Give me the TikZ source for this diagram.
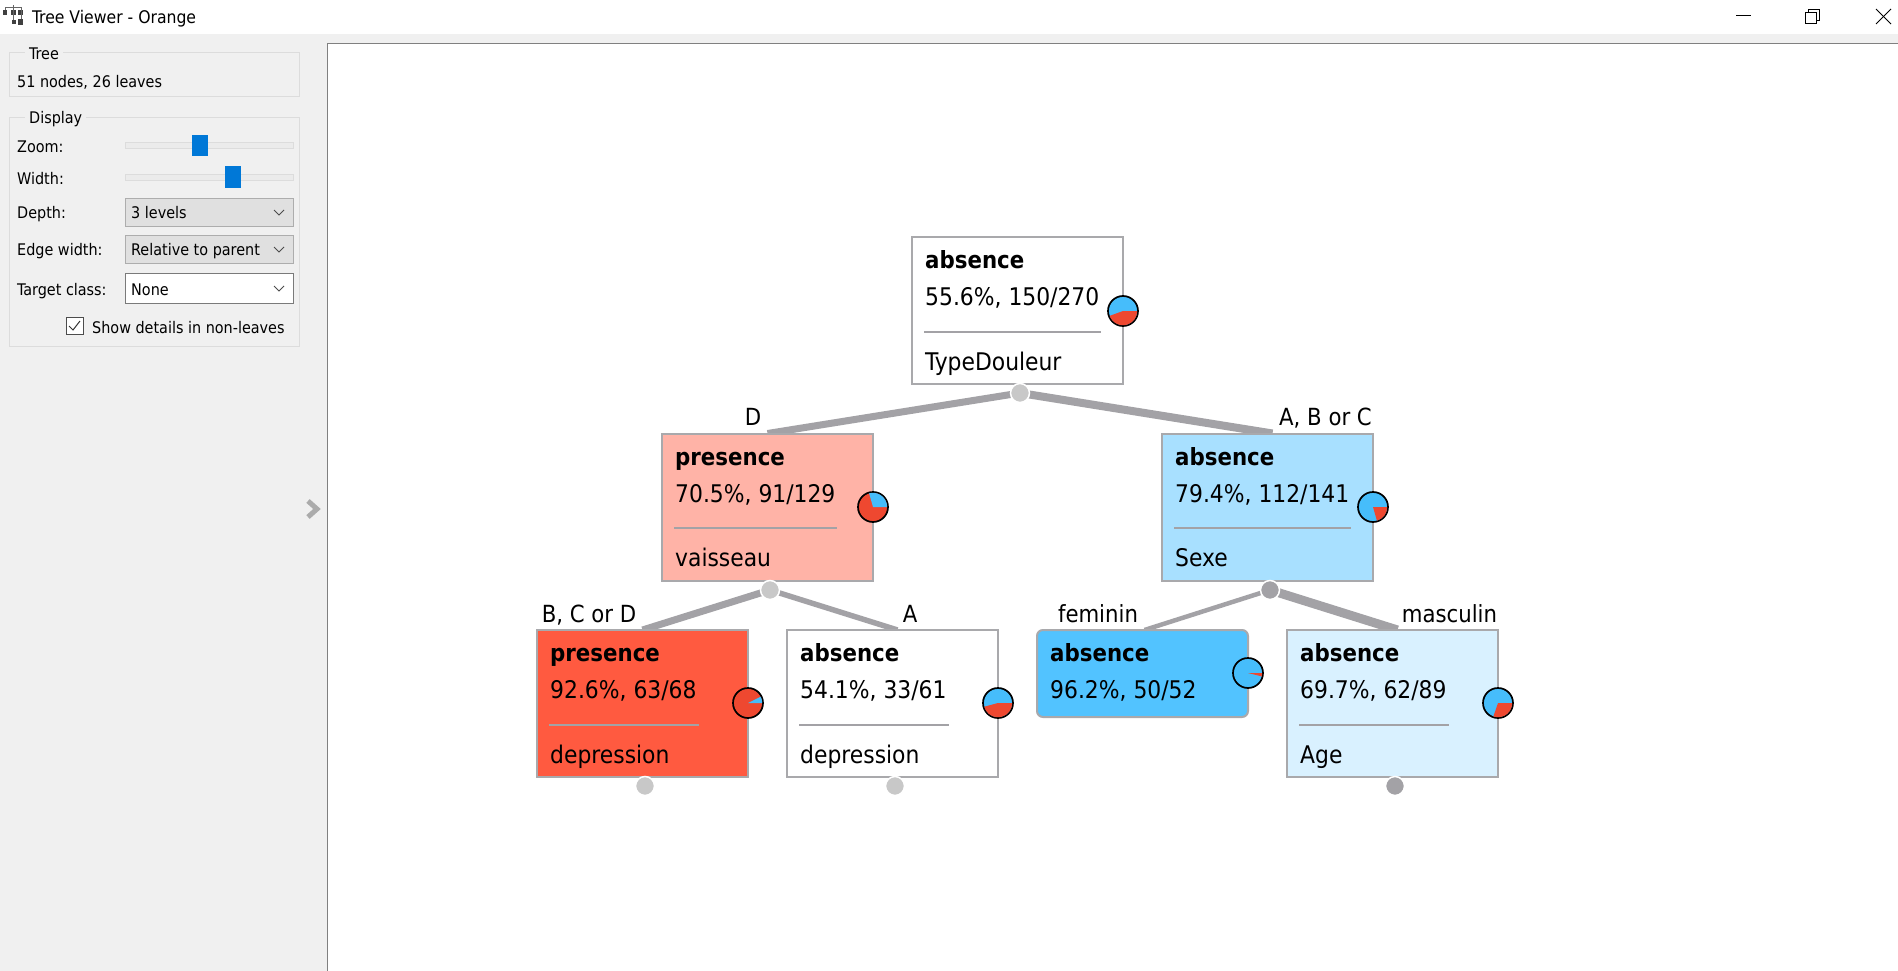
\documentclass[tikz,border=0pt]{standalone}
\usepackage{fontspec}
\setmainfont{DejaVu Sans Condensed}
\usetikzlibrary{backgrounds}
\definecolor{panelgrey}{HTML}{F0F0F0}
\definecolor{framegrey}{HTML}{DCDCDC}
\definecolor{boxborder}{HTML}{A9A9AC}
\definecolor{edgegrey}{HTML}{A3A2A6}
\definecolor{dotlight}{HTML}{C8C8C8}
\definecolor{pieblue}{HTML}{46BDFB}
\definecolor{piered}{HTML}{EE4830}
\definecolor{fillpresencelight}{HTML}{FFB3A7}
\definecolor{fillabsencelight}{HTML}{A8E0FF}
\definecolor{fillpresence}{HTML}{FF5A40}
\definecolor{fillabsence}{HTML}{52C3FF}
\definecolor{fillabsencepale}{HTML}{D9F1FF}
\definecolor{sliderblue}{HTML}{0078D7}
\tikzset{
  treebox/.style={draw=boxborder,line width=2pt,rectangle,minimum width=211pt,minimum height=147pt,inner sep=0pt,outer sep=0pt},
  classtext/.style={anchor=base west,inner sep=0pt,font=\fontsize{23.7}{28}\selectfont\bfseries},
  treetext/.style={anchor=base west,inner sep=0pt,font=\fontsize{24.3}{28}\selectfont},
  branchtext/.style={anchor=base,inner sep=0pt,font=\fontsize{23.6}{28}\selectfont},
  splitline/.style={edgegrey,line width=1.5pt},
  edgeline/.style={edgegrey},
  treedot/.style={circle,draw=white,line width=1.5pt,fill=dotlight,minimum size=19pt,inner sep=0pt},
  piering/.style={circle,draw=black,line width=1.7pt,minimum size=30pt,inner sep=0pt},
  uitext/.style={anchor=base west,inner sep=0pt,font=\fontsize{16}{19}\selectfont},
  grouptitle/.style={anchor=base west,fill=panelgrey,inner xsep=4pt,inner ysep=1pt,font=\fontsize{16}{19}\selectfont},
  groupframe/.style={draw=framegrey,line width=1pt},
  slidertrack/.style={fill=panelgrey!85!black!40!white,draw=framegrey,line width=1pt},
  sliderthumb/.style={fill=sliderblue},
  combobox/.style={fill=black!12,draw=black!32,line width=1pt},
  combochevron/.style={black!70,line width=1pt}
}
\begin{document}
\begin{tikzpicture}[x=1pt,y=1pt]
\useasboundingbox (0,0) rectangle (1898,-971);
% window
\fill [panelgrey] (0,-34) rectangle (1898,-44);
\fill [panelgrey] (0,-44) rectangle (327,-971);
\draw [black!50,line width=1pt] (327,-971) -- (327,-44) -- (1898,-44);
\node [uitext,font=\fontsize{17.4}{20}\selectfont] (wintitle) at (32,-24) {Tree Viewer - Orange};
\fill [black!75] (3,-10) rectangle (7,-15);
\fill [black!75] (11,-10) rectangle (16,-15);
\fill [black!75] (18,-10) rectangle (23,-15);
\fill [black!75] (12,-20) rectangle (16,-24);
\fill [black!75] (18,-19) rectangle (23,-25);
\draw [black!60,line width=0.8pt] (5,-10) -- (5,-7) -- (21,-7) -- (21,-19);
\draw [black!60,line width=0.8pt] (13.5,-5) -- (13.5,-20);
\draw [black,line width=1pt] (1736,-16) -- (1751,-16);
\draw [black,line width=1pt] (1805,-13) rectangle (1816,-24);
\draw [black,line width=1pt] (1808,-13) -- (1808,-10) -- (1819,-10) -- (1819,-21) -- (1816,-21);
\draw [black,line width=1pt] (1876,-9) -- (1891,-24);
\draw [black,line width=1pt] (1891,-9) -- (1876,-24);
% left panel
\draw [groupframe] (9,-53) rectangle (299,-97);
\node [grouptitle] (treetitle) at (25,-60) {Tree};
\node [uitext] (treeinfo) at (17,-88) {51 nodes, 26 leaves};
\draw [groupframe] (9,-118) rectangle (299,-346);
\node [grouptitle] (displaytitle) at (25,-124) {Display};
\node [uitext] (zoomlabel) at (17,-153) {Zoom:};
\draw [slidertrack] (125,-142.5) rectangle (293,-148.5);
\fill [sliderthumb] (192,-135) rectangle (208,-156);
\node [uitext] (widthlabel) at (17,-184) {Width:};
\draw [slidertrack] (125,-174) rectangle (293,-180);
\fill [sliderthumb] (225,-166) rectangle (241,-188);
\node [uitext] (depthlabel) at (17,-218) {Depth:};
\draw [combobox] (125,-198) rectangle (293,-226);
\node [uitext] (depthvalue) at (131,-218) {3 levels};
\draw [combochevron] (274,-210) -- (279,-215) -- (284,-210);
\node [uitext] (edgelabel) at (17,-255) {Edge width:};
\draw [combobox] (125,-235) rectangle (293,-263.5);
\node [uitext] (edgevalue) at (131,-255) {Relative to parent};
\draw [combochevron] (274,-247) -- (279,-252) -- (284,-247);
\node [uitext] (targetlabel) at (17,-295) {Target class:};
\draw [combobox,fill=white,draw=black!52] (125,-273) rectangle (293,-303);
\node [uitext] (targetvalue) at (131,-295) {None};
\draw [combochevron] (274,-286) -- (279,-291) -- (284,-286);
\draw [fill=white,draw=black!70,line width=1pt] (66,-317) rectangle (83,-334);
\draw [black!80,line width=1pt] (69,-326) -- (73,-330) -- (80,-321);
\node [uitext] (detailslabel) at (92,-333) {Show details in non-leaves};
\draw [black!33,line width=5pt] (308,-501) -- (317,-509) -- (308,-517);
% tree boxes
\node [treebox,fill=white] (root) at (1017.5,-310.5) {};
\node [classtext] (rootclass) at (925,-268) {absence};
\node [treetext] (rootstat) at (925,-305) {55.6\%, 150/270};
\draw [splitline] (924,-332) -- (1101,-332);
\node [treetext] (rootattr) at (925,-370) {TypeDouleur};
\node [treebox,fill=fillpresencelight] (vaisseau) at (767.5,-507) {};
\node [classtext] (vaisseauclass) at (675,-465) {presence};
\node [treetext] (vaisseaustat) at (675,-502) {70.5\%, 91/129};
\draw [splitline] (674,-528) -- (837,-528);
\node [treetext] (vaisseauattr) at (675,-566) {vaisseau};
\node [treebox,fill=fillabsencelight] (sexe) at (1267.5,-507) {};
\node [classtext] (sexeclass) at (1175,-465) {absence};
\node [treetext] (sexestat) at (1175,-502) {79.4\%, 112/141};
\draw [splitline] (1174,-528) -- (1351,-528);
\node [treetext] (sexeattr) at (1175,-566) {Sexe};
\node [treebox,fill=fillpresence] (depressiona) at (642.5,-703.5) {};
\node [classtext] (depressionaclass) at (550,-661) {presence};
\node [treetext] (depressionastat) at (550,-698) {92.6\%, 63/68};
\draw [splitline] (549,-725) -- (699,-725);
\node [treetext] (depressionaattr) at (550,-763) {depression};
\node [treebox,fill=white] (depressionb) at (892.5,-703.5) {};
\node [classtext] (depressionbclass) at (800,-661) {absence};
\node [treetext] (depressionbstat) at (800,-698) {54.1\%, 33/61};
\draw [splitline] (799,-725) -- (949,-725);
\node [treetext] (depressionbattr) at (800,-763) {depression};
\node [treebox,fill=fillabsence,minimum height=87pt,rounded corners=6pt] (feminin) at (1142.5,-673.5) {};
\node [classtext] (femininclass) at (1050,-661) {absence};
\node [treetext] (femininstat) at (1050,-698) {96.2\%, 50/52};
\node [treebox,fill=fillabsencepale] (masculin) at (1392.5,-703.5) {};
\node [classtext] (masculinclass) at (1300,-661) {absence};
\node [treetext] (masculinstat) at (1300,-698) {69.7\%, 62/89};
\draw [splitline] (1299,-725) -- (1449,-725);
\node [treetext] (masculinattr) at (1300,-763) {Age};
% dots
\node [treedot] (rootdot) at (1020,-393) {};
\node [treedot] (vaisseaudot) at (770,-590) {};
\node [treedot,fill=edgegrey] (sexedot) at (1270,-590) {};
\node [treedot] (depressionadot) at (645,-786) {};
\node [treedot] (depressionbdot) at (895,-786) {};
\node [treedot,fill=edgegrey] (masculindot) at (1395,-786) {};
% edges
\begin{scope}[on background layer]
\fill [white] (327,-44) rectangle (1898,-971);
\draw [edgeline,line width=7pt] (rootdot.center) -- (vaisseau.north);
\draw [edgeline,line width=8pt] (rootdot.center) -- ([xshift=5pt]sexe.north);
\draw [edgeline,line width=7pt] (vaisseaudot.center) -- (depressiona.north);
\draw [edgeline,line width=5.5pt] (vaisseaudot.center) -- ([xshift=5pt]depressionb.north);
\draw [edgeline,line width=4.5pt] (sexedot.center) -- ([xshift=2pt]feminin.north);
\draw [edgeline,line width=9pt] (sexedot.center) -- ([xshift=5pt]masculin.north);
\end{scope}
% branch labels
\node [branchtext] (labeld) at (753,-425) {D};
\node [branchtext] (labelabc) at (1325.5,-425) {A, B or C};
\node [branchtext] (labelbcd) at (589,-622) {B, C or D};
\node [branchtext] (labela) at (910,-622) {A};
\node [branchtext] (labelfem) at (1098,-622) {feminin};
\node [branchtext] (labelmasc) at (1449.5,-622) {masculin};
% class pies
\node [piering,fill=pieblue] (rootpie) at (1123,-311) {};
\fill [piered] (rootpie.center) -- ++(200:14.2) arc (200:360:14.2) -- cycle;
\node [piering,fill=piered] (vaisseaupie) at (873,-507) {};
\fill [pieblue] (vaisseaupie.center) -- ++(0:14.2) arc (0:106:14.2) -- cycle;
\node [piering,fill=pieblue] (sexepie) at (1373,-507) {};
\fill [piered] (sexepie.center) -- ++(286:14.2) arc (286:360:14.2) -- cycle;
\node [piering,fill=piered] (depressionapie) at (748,-703) {};
\fill [pieblue] (depressionapie.center) -- ++(0:14.2) arc (0:26.5:14.2) -- cycle;
\node [piering,fill=pieblue] (depressionbpie) at (998,-703) {};
\fill [piered] (depressionbpie.center) -- ++(195:14.2) arc (195:360:14.2) -- cycle;
\node [piering,fill=pieblue] (femininpie) at (1248,-673) {};
\fill [piered] (femininpie.center) -- ++(346:14.2) arc (346:360:14.2) -- cycle;
\node [piering,fill=pieblue] (masculinpie) at (1498,-703) {};
\fill [piered] (masculinpie.center) -- ++(251:14.2) arc (251:360:14.2) -- cycle;
\end{tikzpicture}
\end{document}
